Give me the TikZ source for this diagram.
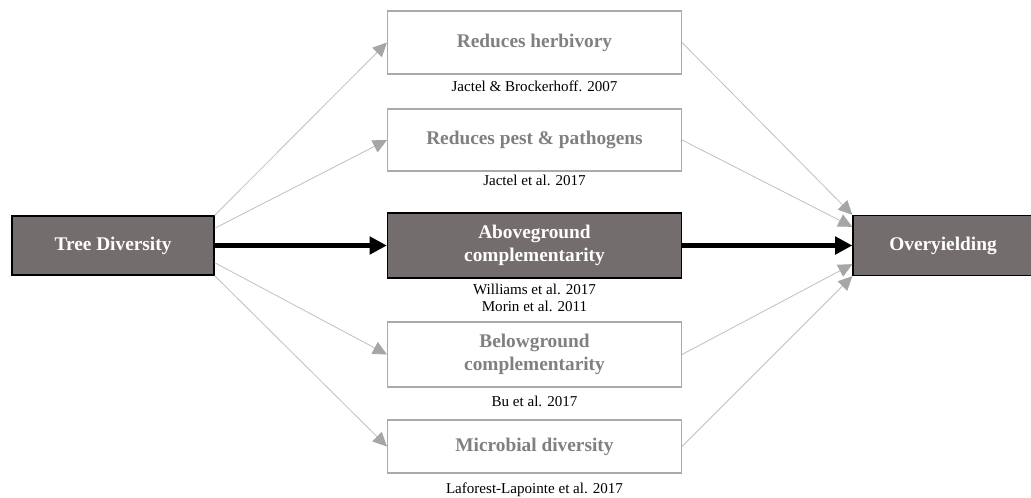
\documentclass[tikz,border=0pt]{standalone}
\usepackage{fontspec}
\setmainfont{Liberation Serif}
\usetikzlibrary{arrows.meta}

\definecolor{boxdark}{RGB}{115,110,109}
\definecolor{boxline}{RGB}{170,170,170}
\definecolor{boxtext}{RGB}{128,128,128}
\definecolor{linkgray}{RGB}{191,191,191}
\definecolor{tipgray}{RGB}{166,166,166}

\tikzset{every picture/.style={line width=0.75pt}}
\tikzset{
  darkbox/.style={draw=black,line width=1pt,fill=boxdark,text=white,align=center,inner sep=0.75pt,
    font=\fontsize{14.5}{17.5}\selectfont\bfseries},
  lightbox/.style={draw=boxline,line width=0.8pt,fill=white,text=boxtext,align=center,inner sep=0.75pt,
    font=\fontsize{14.5}{17.5}\selectfont\bfseries},
  citetext/.style={anchor=north,align=center,inner sep=0.75pt,font=\fontsize{11.3}{12.75}\selectfont},
  thinlink/.style={draw=linkgray,line width=0.6pt,-{Triangle[length=10.5pt,width=10pt,color=tipgray]}},
  mainlink/.style={line width=3.75pt,-{Triangle[length=13pt,width=13pt]}}
}

\begin{document}
\begin{tikzpicture}[x=0.75pt,y=0.75pt,yscale=-1]
\useasboundingbox (0,0) rectangle (1031,497);

%Boxes
\draw (113,245.5) node [darkbox,minimum width=151.5pt,minimum height=44.25pt] (td) {Tree Diversity};
\draw (534.5,245.5) node [darkbox,minimum width=220.5pt,minimum height=48.75pt] (ab) {Aboveground\\complementarity};
\draw (943,245.5) node [darkbox,minimum width=135pt,minimum height=45pt] (ov) {Overyielding};
\draw (534.5,42.5) node [lightbox,minimum width=220.5pt,minimum height=47.25pt] (herb) {Reduces herbivory};
\draw (534.5,140) node [lightbox,minimum width=220.5pt,minimum height=46.5pt] (pest) {Reduces pest \& pathogens};
\draw (534.5,354.5) node [lightbox,minimum width=220.5pt,minimum height=48.75pt] (below) {Belowground\\complementarity};
\draw (534.5,446.5) node [lightbox,minimum width=220.5pt,minimum height=39.75pt] (micro) {Microbial diversity};

% Text Node
\draw (534.5,79.7) node [citetext] (citeherb) {Jactel \& Brockerhoff. 2007};
\draw (534.5,173.7) node [citetext] (citepest) {Jactel et al. 2017};
\draw (534.5,282.7) node [citetext] (citeab) {Williams et al. 2017\\Morin et al. 2011};
\draw (534.5,394.7) node [citetext] (citebelow) {Bu et al. 2017};
\draw (534.5,481.7) node [citetext] (citemicro) {Laforest-Lapointe et al. 2017};

%Straight Lines (yscale=-1, so a positive yshift goes down)
\draw [thinlink] (td.north east) -- (herb.west);
\draw [thinlink] ([yshift=9.75pt]td.north east) -- (pest.west);
\draw [thinlink] ([yshift=-9.75pt]td.south east) -- (below.west);
\draw [thinlink] (td.south east) -- (micro.west);
\draw [thinlink] (herb.east) -- (ov.north west);
\draw [thinlink] (pest.east) -- ([yshift=9pt]ov.north west);
\draw [thinlink] (below.east) -- ([yshift=-9pt]ov.south west);
\draw [thinlink] (micro.east) -- (ov.south west);

%Main path
\draw [mainlink] (td) -- (ab);
\draw [mainlink] (ab.east) -- (ov.west);

\end{tikzpicture}
\end{document}
